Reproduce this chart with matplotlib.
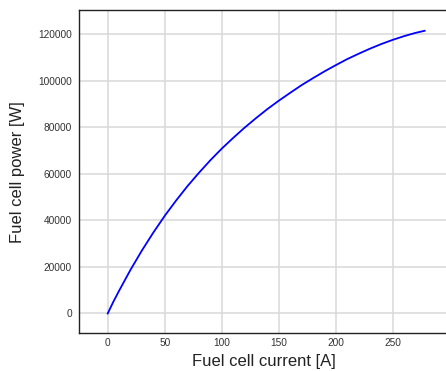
import matplotlib
matplotlib.use("Agg")
import matplotlib.pyplot as plt

# Fuel cell polarization: power vs stack current
current = [0, 5, 10, 20, 30, 40, 50, 60, 70, 80, 90, 100, 110, 120, 130, 140,
           150, 160, 170, 180, 190, 200, 210, 220, 230, 240, 250, 260, 270, 278]
power = [0, 5100, 9800, 18800, 27100, 34800, 42000, 48600, 54800, 60500,
         65900, 70900, 75500, 79900, 84000, 87900, 91500, 94900, 98200, 101200,
         104100, 106800, 109400, 111700, 113900, 115900, 117700, 119300, 120700, 121600]

x_ticks = [0, 50, 100, 150, 200, 250]
y_ticks = [0, 20000, 40000, 60000, 80000, 100000, 120000]

plt.rcParams['font.family'] = ['Liberation Sans', 'DejaVu Sans']

fig = plt.figure(figsize=(4.46, 3.71), dpi=100)
ax = fig.add_axes([0.1771, 0.1024, 0.8313, 0.8698])

ax.plot(current, power, color='#0000ff', lw=1.3, zorder=3)

ax.set_xlim(-25.2, 300)
ax.set_ylim(-8400, 130400)
ax.set_xticks(x_ticks)
ax.set_yticks(y_ticks)
ax.ticklabel_format(style='plain', useOffset=False)

ax.grid(True, color='#d9d9d9', lw=1.1)
ax.set_axisbelow(True)
ax.tick_params(length=0, labelsize=7.3, labelcolor='#333333')
ax.tick_params(axis='y', pad=5)
ax.tick_params(axis='x', pad=3.5)

for side in ['left', 'bottom', 'top']:
    ax.spines[side].set_color('#222222')
    ax.spines[side].set_linewidth(1.0)
ax.spines['right'].set_visible(False)

ax.set_xlabel('Fuel cell current [A]', fontsize=12, color='#222222', va='center')
ax.set_ylabel('Fuel cell power [W]', fontsize=12, color='#222222', va='center')
ax.xaxis.set_label_coords(0.5, -0.0889)
ax.yaxis.set_label_coords(-0.1664, 0.5)

fig.savefig('out.png', dpi=100)
